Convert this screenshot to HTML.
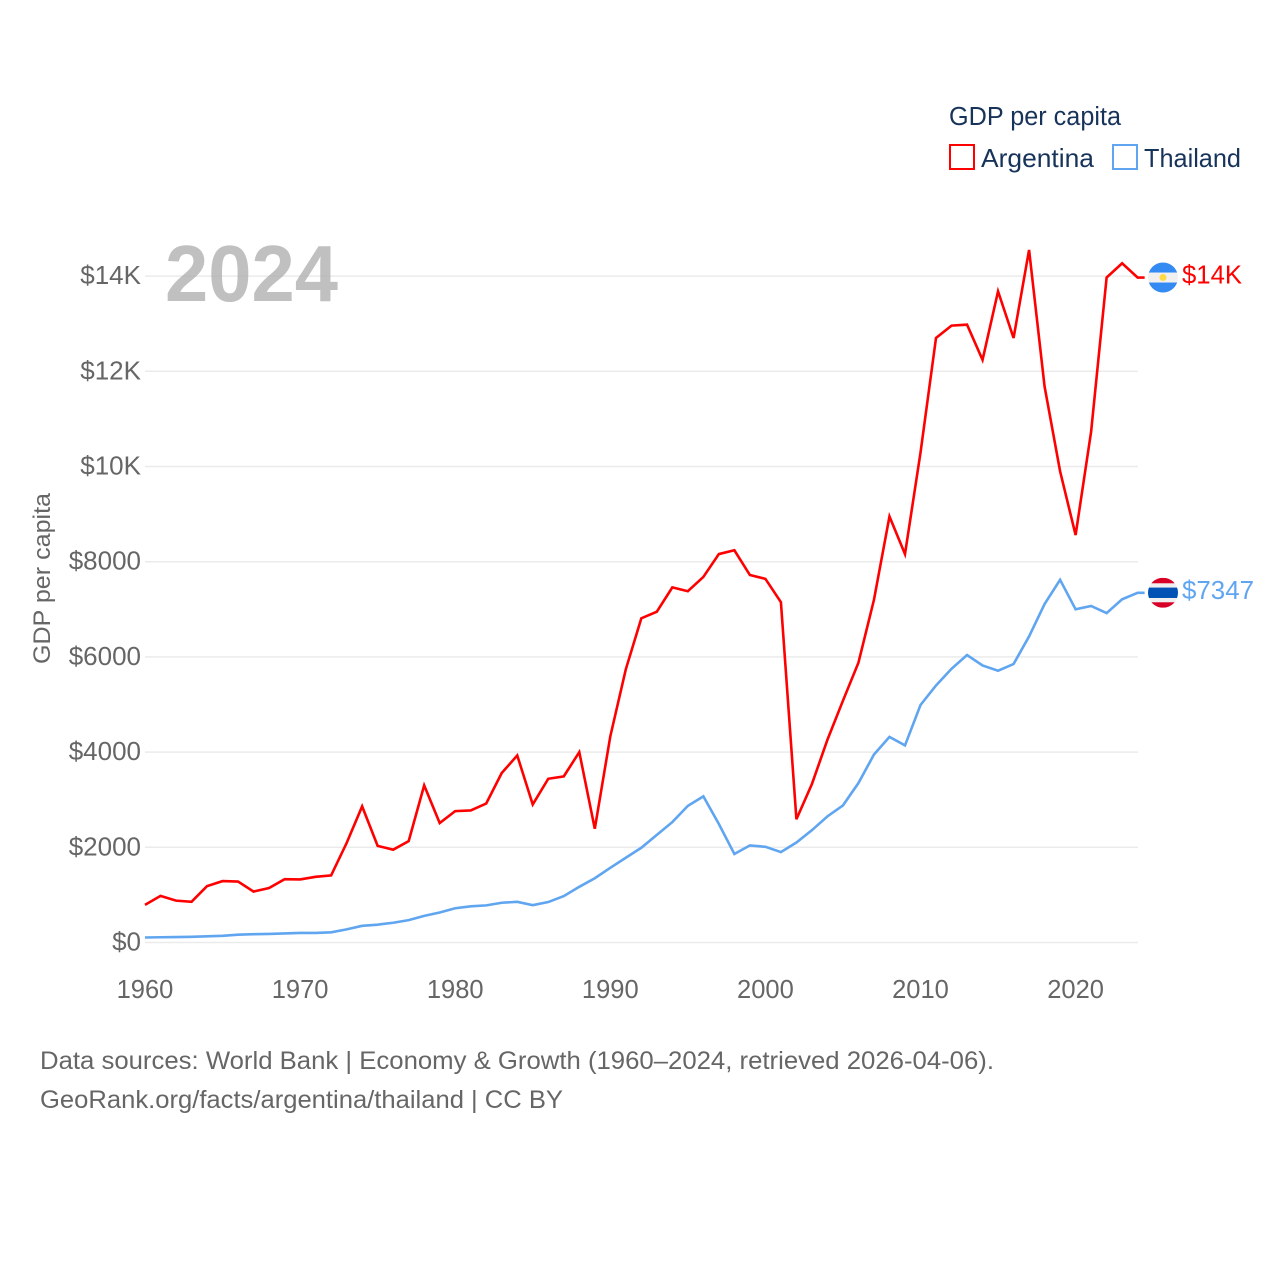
<!DOCTYPE html>
<html lang="en">
<head>
<meta charset="utf-8">
<title>GDP per capita: Argentina and Thailand</title>
<style>
html,body{margin:0;padding:0;background:#fff;}
svg{display:block;font-family:"Liberation Sans",sans-serif;}
</style>
</head>
<body>
<svg id="chart" xmlns="http://www.w3.org/2000/svg" width="1280" height="1280" viewBox="0 0 1280 1280">
  <rect width="1280" height="1280" fill="#fff"/>
  <g id="grid"></g>
  <g id="yticks"></g>
  <g id="xticks"></g>
  <text x="165" y="301" font-size="80" font-weight="bold" fill="#a8a8a8" fill-opacity="0.72" textLength="173" lengthAdjust="spacingAndGlyphs">2024</text>
  <text transform="translate(50,664) rotate(-90)" font-size="24" fill="#666" textLength="171" lengthAdjust="spacingAndGlyphs">GDP per capita</text>
  <g id="series"></g>
  <g>
    <text x="949" y="125" font-size="25.5" fill="#17335a" textLength="172" lengthAdjust="spacingAndGlyphs">GDP per capita</text>
    <rect x="950" y="145" width="24" height="24" fill="#fff" stroke="#ff0000" stroke-width="2"/>
    <text x="981" y="167" font-size="26" fill="#17335a" textLength="113" lengthAdjust="spacingAndGlyphs">Argentina</text>
    <rect x="1113" y="145" width="24" height="24" fill="#fff" stroke="#60a5f0" stroke-width="2"/>
    <text x="1144" y="167" font-size="26" fill="#17335a" textLength="97" lengthAdjust="spacingAndGlyphs">Thailand</text>
  </g>
  <g id="end-markers"></g>
  <g>
    <text x="40" y="1069" font-size="25" fill="#666" textLength="954" lengthAdjust="spacingAndGlyphs">Data sources: World Bank | Economy &amp; Growth (1960–2024, retrieved 2026-04-06).</text>
    <text x="40" y="1108" font-size="25" fill="#666" textLength="523" lengthAdjust="spacingAndGlyphs">GeoRank.org/facts/argentina/thailand | CC BY</text>
  </g>
</svg>
<script>
const firstYear = 1960;
const argentinaValues = [790,980,880,855,1185,1290,1280,1070,1145,1330,1325,1380,1410,2090,2860,2030,1950,2130,3300,2510,2760,2775,2920,3560,3930,2900,3440,3490,4000,2390,4330,5740,6810,6950,7460,7380,7680,8160,8240,7720,7640,7150,2590,3330,4260,5080,5880,7200,8950,8160,10290,12700,12960,12980,12240,13680,12700,14550,11680,9900,8560,10730,13970,14270,13970];
const thailandValues = [105,110,115,120,130,140,165,175,180,190,200,200,215,275,350,375,415,470,560,630,720,760,780,835,855,785,850,975,1170,1350,1570,1780,1990,2260,2530,2870,3070,2490,1860,2040,2010,1900,2100,2360,2650,2880,3350,3950,4320,4140,4990,5400,5750,6040,5820,5710,5850,6430,7110,7620,7000,7070,6920,7210,7347];
const yTickValues = [0,2000,4000,6000,8000,10000,12000,14000];
const yTickLabels = ["$0","$2000","$4000","$6000","$8000","$10K","$12K","$14K"];
const xTickYears = [1960,1970,1980,1990,2000,2010,2020];
const endLabels = ["$14K","$7347"];

const NS = "http://www.w3.org/2000/svg";
function xScale(year){ return 145 + (year - 1960) * 15.51; }
function yScale(value){ return 942.5 - value * 0.0476; }
function make(tag, attrs, parent){
  const el = document.createElementNS(NS, tag);
  for (const k in attrs) el.setAttribute(k, attrs[k]);
  parent.appendChild(el);
  return el;
}
const grid = document.getElementById("grid");
const yticks = document.getElementById("yticks");
const xticks = document.getElementById("xticks");
const seriesGroup = document.getElementById("series");
const markers = document.getElementById("end-markers");

yTickValues.forEach(function(v, i){
  const line = make("line", {x1:145, x2:1138, y1:yScale(v), y2:yScale(v), stroke:"#ebebeb", "stroke-width":1.5}, grid);
  
  
  const t = make("text", {x:141, y:yScale(v)+8, "text-anchor":"end", "font-size":26, fill:"#666"}, yticks);
  
  
  t.textContent = yTickLabels[i];
});

xTickYears.forEach(function(year){
  const t = make("text", {x:xScale(year), y:998, "text-anchor":"middle", "font-size":25.5, fill:"#666"}, xticks);
  
  
  t.textContent = year;
});

function linePath(values){
  let d = "";
  values.forEach(function(v, i){
    d += (i ? "L" : "M") + xScale(firstYear + i).toFixed(2) + " " + yScale(v).toFixed(2);
  });
  const last = values[values.length - 1];
  d += "L" + (xScale(firstYear + values.length - 1) + 7).toFixed(2) + " " + yScale(last).toFixed(2);
  return d;
}

const thaiLine = make("path", {d:linePath(thailandValues), fill:"none", stroke:"#60a5f0", "stroke-width":2.6, "stroke-linejoin":"miter"}, seriesGroup);


const argLine = make("path", {d:linePath(argentinaValues), fill:"none", stroke:"#ff0000", "stroke-width":2.6, "stroke-linejoin":"miter"}, seriesGroup);



const flagX = 1163, flagR = 15;
function clipCircle(id, cy){
  const defs = make("clipPath", {id:id}, markers);
  make("circle", {cx:flagX, cy:cy, r:flagR}, defs);
}

const argY = yScale(argentinaValues[argentinaValues.length - 1]);
clipCircle("clip-ar", argY);
const flagAr = make("g", {"clip-path":"url(#clip-ar)"}, markers);


make("rect", {x:flagX-flagR, y:argY-flagR, width:30, height:30, fill:"#f0f0f0"}, flagAr);
make("rect", {x:flagX-flagR, y:argY-flagR, width:30, height:10, fill:"#338af3"}, flagAr);
make("rect", {x:flagX-flagR, y:argY+5, width:30, height:10, fill:"#338af3"}, flagAr);
make("circle", {cx:flagX, cy:argY, r:3.5, fill:"#ffda44"}, flagAr);

const thY = yScale(thailandValues[thailandValues.length - 1]);
clipCircle("clip-th", thY);
const flagTh = make("g", {"clip-path":"url(#clip-th)"}, markers);


make("rect", {x:flagX-flagR, y:thY-flagR, width:30, height:30, fill:"#f0f0f0"}, flagTh);
make("rect", {x:flagX-flagR, y:thY-flagR, width:30, height:5.5, fill:"#d80027"}, flagTh);
make("rect", {x:flagX-flagR, y:thY+9.5, width:30, height:5.5, fill:"#d80027"}, flagTh);
make("rect", {x:flagX-flagR, y:thY-5.2, width:30, height:10.4, fill:"#0052b4"}, flagTh);

const labelAr = make("text", {x:1182, y:argY+6, "font-size":26, fill:"#ff0000", textLength:60, lengthAdjust:"spacingAndGlyphs"}, markers);


labelAr.textContent = endLabels[0];
const labelTh = make("text", {x:1182, y:thY+6, "font-size":26, fill:"#60a5f0", textLength:72, lengthAdjust:"spacingAndGlyphs"}, markers);


labelTh.textContent = endLabels[1];
</script>
</body>
</html>
